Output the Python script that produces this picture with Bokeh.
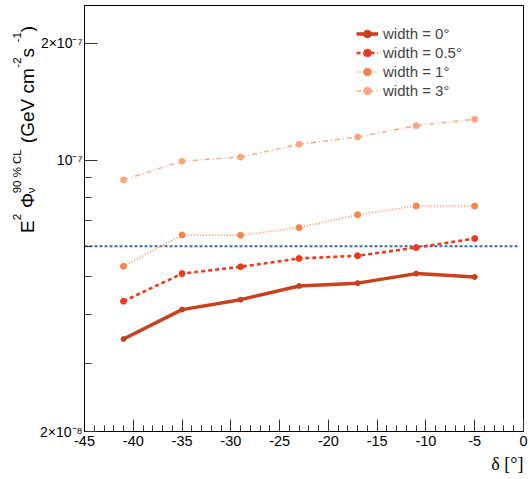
import math
from bokeh.plotting import figure
from bokeh.layouts import row
from bokeh.models import FixedTicker, Legend, LegendItem, Range1d, Title, ColumnDataSource
from bokeh.core.properties import value, field
from bokeh.embed import file_html
from bokeh.resources import INLINE

# ---- data ----
dec = [-41, -35, -29, -23, -17, -11, -5]
flux_w0 = [3.46e-8, 4.12e-8, 4.37e-8, 4.74e-8, 4.82e-8, 5.10e-8, 5.00e-8]
flux_w05 = [4.33e-8, 5.10e-8, 5.31e-8, 5.58e-8, 5.67e-8, 5.95e-8, 6.28e-8]
flux_w1 = [5.33e-8, 6.41e-8, 6.40e-8, 6.70e-8, 7.23e-8, 7.62e-8, 7.61e-8]
flux_w3 = [8.89e-8, 9.93e-8, 1.018e-7, 1.098e-7, 1.146e-7, 1.226e-7, 1.274e-7]
series_labels = ["width = 0°", "width = 0.5°", "width = 1°", "width = 3°"]
ref_x = [-45, -0.6]
ref_y = [6.0e-8, 6.0e-8]

x_major = [-45, -40, -35, -30, -25, -20, -15, -10, -5, 0]
x_major_labels = ["-45", "-40", "-35", "-30", "-25", "-20", "-15", "-10", "-5", "0"]
x_minor = [v for v in range(-45, 1) if v % 5 != 0]
y_major = [2e-8, 1e-7, 2e-7]
y_major_labels = ["2×10⁻⁸", "10⁻⁷", "2×10⁻⁷"]
y_minor = [3e-8, 4e-8, 5e-8, 6e-8, 7e-8, 8e-8, 9e-8]

# y-axis title pieces: text, role (main / sup / sub)
ytitle_text = ["E", "2", "Φ", "ν", "90 % CL", "(GeV cm", "-2", " s", "-1", ")"]
ytitle_role = ["main", "sup", "main", "sub", "sup", "main", "sup", "main", "sup", "main"]

SANS = "Liberation Sans"
H = 476
YW = 37
TOP, BOTTOM = 5, 44

# ---------------- main plot ----------------
p = figure(width=528 - YW, height=H, y_axis_type="log",
           x_range=Range1d(-45, 0), y_range=Range1d(2e-8, 2.5e-7),
           output_backend="svg", toolbar_location=None,
           min_border_left=46, min_border_right=5, min_border_top=TOP,
           min_border_bottom=BOTTOM)
p.xgrid.visible = False
p.ygrid.visible = False
p.outline_line_color = "black"
p.outline_line_width = 1
p.outline_line_alpha = 1
p.background_fill_color = "white"
p.border_fill_color = "white"

xa = p.xaxis[0]
xa.ticker = FixedTicker(ticks=x_major, minor_ticks=x_minor)
xa.major_label_overrides = dict(zip(x_major, x_major_labels))
xa.major_tick_in = 12
xa.major_tick_out = 0
xa.minor_tick_in = 6
xa.minor_tick_out = 0
xa.axis_line_color = "black"
xa.major_tick_line_color = "#333333"
xa.minor_tick_line_color = "#333333"
xa.major_label_text_font = SANS
xa.major_label_text_font_size = "14.5px"
xa.major_label_text_color = "black"
xa.major_label_standoff = 4

ya = p.yaxis[0]
ya.ticker = FixedTicker(ticks=y_major, minor_ticks=y_minor)
ya.major_label_overrides = dict(zip(y_major, y_major_labels))
ya.major_tick_in = 13
ya.major_tick_out = 0
ya.minor_tick_in = 7
ya.minor_tick_out = 0
ya.axis_line_color = "black"
ya.major_tick_line_color = "#333333"
ya.minor_tick_line_color = "#333333"
ya.major_label_text_font = SANS
ya.major_label_text_font_size = "14px"
ya.major_label_text_color = "black"
ya.major_label_standoff = 2

# reference level
p.line(ref_x, ref_y, line_color="#3d6ea6", line_width=2, line_dash="3 2")

styles = [
    (flux_w0, "#c9401c", 3.5, "solid", 5),
    (flux_w05, "#ee3a20", 2.6, "4 3", 6),
    (flux_w1, "#f5854b", 1.5, "1 2", 6),
    (flux_w3, "#f9a680", 1.4, "5 3 1 3", 6),
]
items = []
for (ys, col, lw, dash, ms), lab in zip(styles, series_labels):
    rl = p.line(dec, ys, line_color=col, line_width=lw, line_dash=dash)
    rs = p.scatter(dec, ys, size=ms, fill_color=col, line_color=col)
    items.append(LegendItem(label=lab, renderers=[rl, rs]))

legend = Legend(items=items, location=(272, 331.5), padding=0, margin=0,
                border_line_alpha=0, background_fill_alpha=0,
                label_text_font=SANS, label_text_font_size="15px",
                label_height=19, glyph_height=19, glyph_width=22,
                label_standoff=5, spacing=0)
p.add_layout(legend)

xtitle = Title(text="δ [°]", align="right", text_font="Liberation Serif",
               text_font_size="18px", text_font_style="normal",
               text_color="black", standoff=6)
p.add_layout(xtitle, "below")

# ---------------- y-axis title strip ----------------
# frame aligned with the main plot's frame; data y = distance from bottom of page
yfig = figure(width=YW, height=H, x_range=Range1d(0, YW),
              y_range=Range1d(BOTTOM, H - TOP),
              output_backend="svg", toolbar_location=None,
              x_axis_location=None, y_axis_location=None,
              min_border=0, min_border_left=0, min_border_right=0,
              min_border_top=TOP, min_border_bottom=BOTTOM)
yfig.xgrid.visible = False
yfig.ygrid.visible = False
yfig.outline_line_color = None
yfig.background_fill_color = "white"
yfig.border_fill_color = "white"

# centre line (x) of each kind of piece, rotated text
role_x = {"main": 26.5, "sup": 16.5, "sub": 30.5}
role_size = {"main": "19px", "sup": "11.5px", "sub": "11.5px"}
start_from_top = [233, 220.3, 208, 193.3, 193.3, 143, 67.3, 57, 42, 31.8]

src = ColumnDataSource(dict(
    x=[role_x[r] for r in ytitle_role],
    y=[H - s for s in start_from_top],
    text=ytitle_text,
    size=[role_size[r] for r in ytitle_role],
))
yfig.text(x="x", y="y", text="text", source=src, angle=math.pi / 2,
          text_align="left", text_baseline="middle",
          text_font=value(SANS), text_font_size=field("size"),
          text_color="black")

layout = row(yfig, p, spacing=0)
open("out.html", "w").write(file_html(layout, INLINE))
